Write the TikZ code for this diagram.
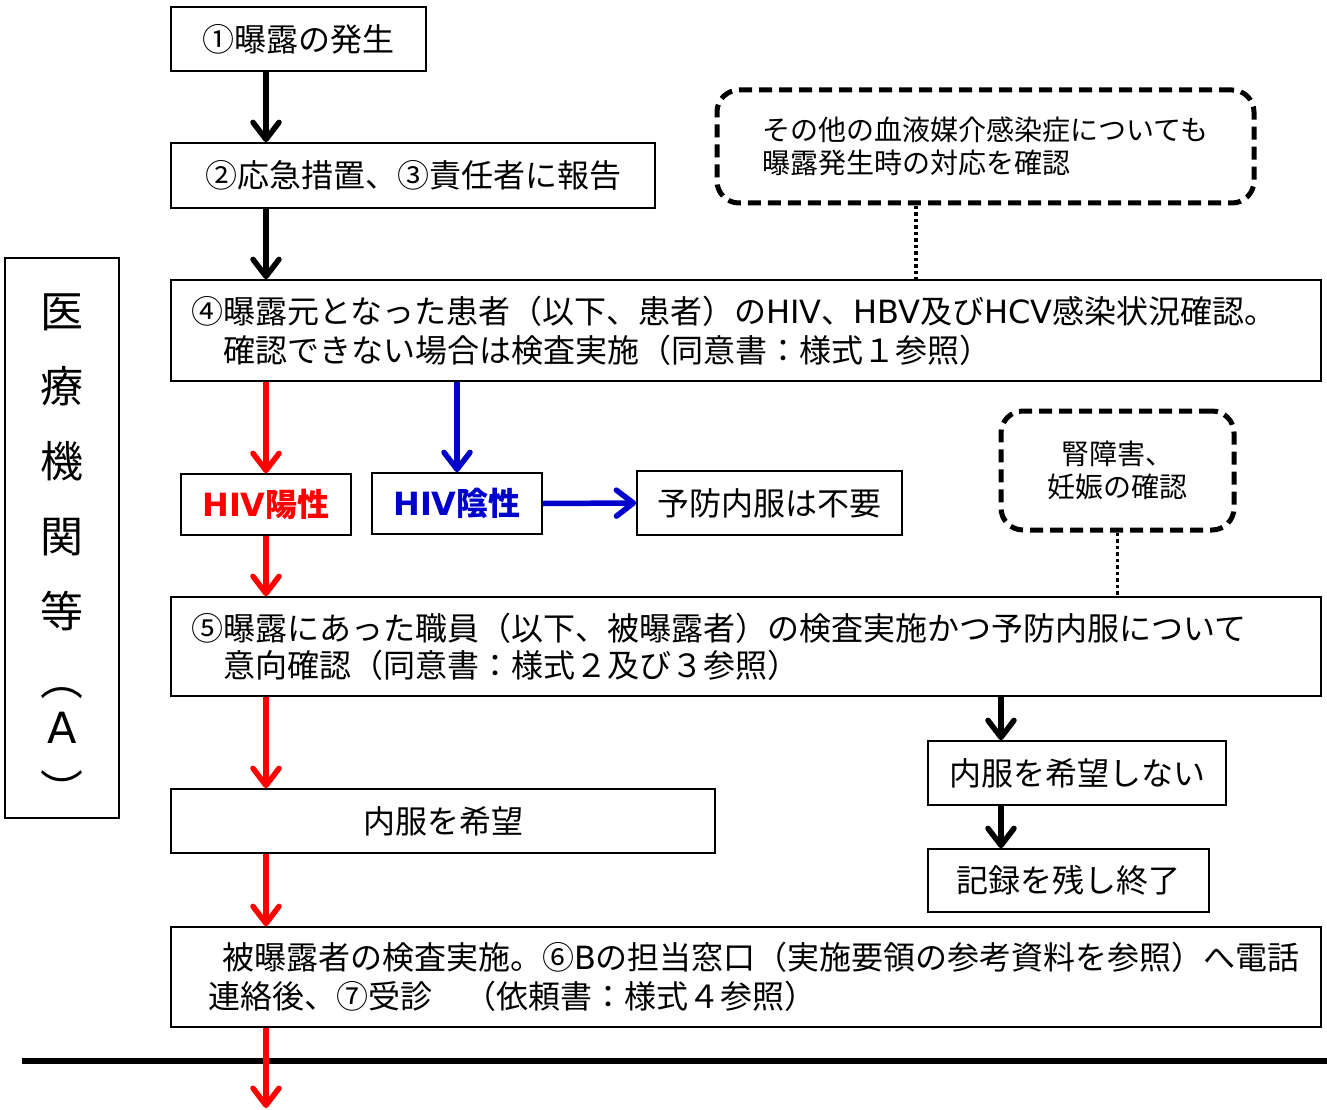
\documentclass[tikz,border=0pt]{standalone}
\usepackage{fontspec}
\setmainfont{Noto Sans CJK JP}
\newfontfamily\latfont{DejaVu Sans}
\newcommand\lat[1]{{\latfont #1}}
\usetikzlibrary{arrows.meta}
\definecolor{myred}{RGB}{255,0,0}
\definecolor{myblue}{RGB}{0,0,204}
\newcommand\fsmain{\fontsize{32}{39}\selectfont}
\newcommand\fsnote{\fontsize{28}{33}\selectfont}
\newcommand\fsside{\fontsize{43}{75}\selectfont}
\begin{document}
\begin{tikzpicture}[x=1pt,y=-1pt,
  box/.style={draw, line width=1.7pt, inner sep=0pt, font=\fsmain, align=center},
  note/.style={draw, line width=5pt, dash pattern=on 13pt off 7pt, rounded corners=22pt, inner sep=0pt, font=\fsnote},
  dotline/.style={line width=3.5pt, dash pattern=on 3.5pt off 3pt},
  arr/.style={line width=5.5pt, -{Straight Barb[length=17pt,width=26pt,round]}},
]
\useasboundingbox (0,0) rectangle (1327,1110);
\fill[white] (0,0) rectangle (1327,1110);

\node[box, minimum width=255, minimum height=64] (b1) at (298.5,39) {①曝露の発生};
\node[box, minimum width=484, minimum height=65] (b2) at (413,175.5) {②応急措置、③責任者に報告};
\node[note, minimum width=537, minimum height=113, align=left] (d1) at (985.5,146.5) {その他の血液媒介感染症についても\\曝露発生時の対応を確認};
\node[box, minimum width=1150, minimum height=101, text width=1110, align=left] (b4) at (746,330.5)
  {④曝露元となった患者（以下、患者）の\lat{HIV}、\lat{HBV}及び\lat{HCV}感染状況確認。\\　確認できない場合は検査実施（同意書：様式１参照）};
\node[box, minimum width=170, minimum height=61, text=myred, font=\fsmain\bfseries] (pos) at (266,504.5) {\lat{HIV}陽性};
\node[box, minimum width=170, minimum height=61, text=myblue, font=\fsmain\bfseries] (neg) at (457,503.5) {\lat{HIV}陰性};
\node[box, minimum width=265, minimum height=64] (none) at (769.5,503) {予防内服は不要};
\node[note, minimum width=233, minimum height=119, align=center] (d2) at (1117.5,470.5) {腎障害、\\妊娠の確認};
\node[box, minimum width=1150, minimum height=99, text width=1110, align=left, font=\fontsize{32}{37}\selectfont] (b5) at (746,646.5)
  {⑤曝露にあった職員（以下、被曝露者）の検査実施かつ予防内服について\\　意向確認（同意書：様式２及び３参照）};
\node[box, minimum width=544, minimum height=64] (want) at (443,821) {内服を希望};
\node[box, minimum width=298, minimum height=64] (nowant) at (1077,773) {内服を希望しない};
\node[box, minimum width=281, minimum height=63] (rec) at (1068.5,880.5) {記録を残し終了};
\node[box, minimum width=1150, minimum height=100, text width=1076, align=left] (b6) at (746,977)
  {\hspace*{14pt}被曝露者の検査実施。⑥\lat{B}の担当窓口（実施要領の参考資料を参照）へ電話\\連絡後、⑦受診　（依頼書：様式４参照）};
\node[box, minimum width=114, minimum height=560] (side) at (62,538) {};
\node[font=\fsside, align=center, inner sep=0pt, yshift=-12pt] (sidetxt) at (side.center) {医\\療\\機\\関\\等\\[-7pt]︵\\[-27pt]\lat{A}\\[-12pt]︶};

\coordinate (c1) at (916,0);
\coordinate (c2) at (1001,0);
\coordinate (hl) at (22,1061);
\coordinate (hr) at (1327,1061);
\coordinate (endp) at (266,1108);

\draw[arr] (b1.south -| pos) -- (b2.north -| pos);
\draw[arr] (b2.south -| pos) -- (b4.north -| pos);
\draw[dotline] (d1.south -| c1) -- (b4.north -| c1);
\draw[arr, myred] (b4.south -| pos) -- (pos.north);
\draw[arr, myblue] (b4.south -| neg) -- (neg.north);
\draw[arr, myblue] (neg.east) -- (none.west);
\draw[dotline] (d2.south) -- (d2.south |- b5.north);
\draw[arr, myred] (pos.south) -- (b5.north -| pos);
\draw[arr, myred] (b5.south -| pos) -- (want.north -| pos);
\draw[arr] (b5.south -| c2) -- (nowant.north -| c2);
\draw[arr] (nowant.south -| c2) -- (rec.north -| c2);
\draw[arr, myred] (want.south -| pos) -- (b6.north -| pos);
\draw[line width=6pt] (hl) -- (hr);
\draw[arr, myred] (b6.south -| pos) -- (endp);
\end{tikzpicture}
\end{document}
